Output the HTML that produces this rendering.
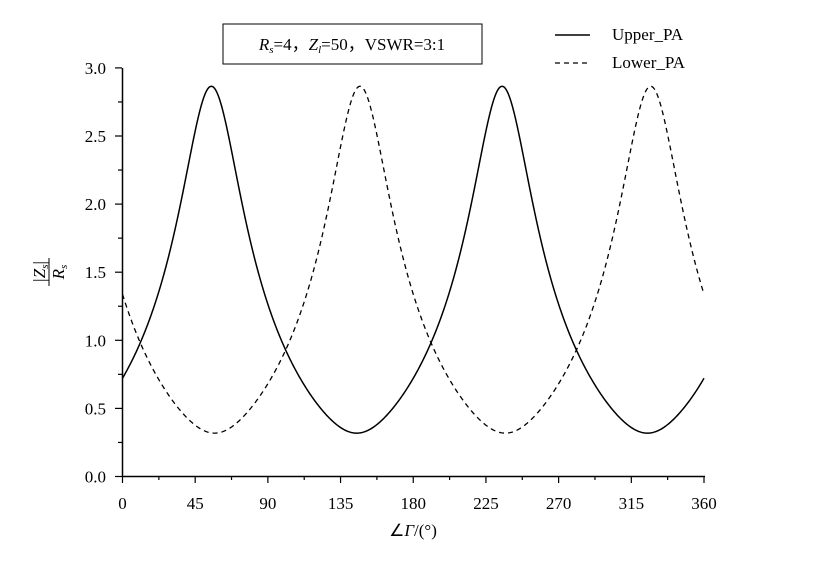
<!DOCTYPE html>
<html><head><meta charset="utf-8"><style>
body{margin:0;background:#fff;}
svg text{font-family:"Liberation Serif",serif;fill:#000;}
</style></head><body>
<svg id="s" width="831" height="557" viewBox="0 0 831 557" xmlns="http://www.w3.org/2000/svg">
<rect width="831" height="557" fill="#fff"/>
<rect x="223" y="24" width="259" height="40" fill="none" stroke="#000" stroke-width="1"/>
<text x="352" y="50" font-size="17" text-anchor="middle"><tspan font-style="italic">R</tspan><tspan font-size="11" font-style="italic" dy="3">s</tspan><tspan dy="-3">=4，</tspan><tspan font-style="italic">Z</tspan><tspan font-size="11" font-style="italic" dy="3">l</tspan><tspan dy="-3">=50，VSWR=3:1</tspan></text>
<line x1="555" y1="35" x2="590" y2="35" stroke="#000" stroke-width="1.5"/>
<text x="612" y="40" font-size="17">Upper_PA</text>
<line x1="555" y1="63" x2="590" y2="63" stroke="#000" stroke-width="1.3" stroke-dasharray="5,4"/>
<text x="612" y="68" font-size="17">Lower_PA</text>
<g stroke="#000" stroke-width="1.5" fill="none">
<line x1="122.5" y1="68" x2="122.5" y2="477"/>
<line x1="122" y1="476.5" x2="705" y2="476.5"/>
</g>
<g id="ticks" stroke="#000" stroke-width="1.2"></g>
<g id="labels" font-size="17"></g>
<path id="up" fill="none" stroke="#000" stroke-width="1.5"/>
<path id="lo" fill="none" stroke="#000" stroke-width="1.3" stroke-dasharray="5,4"/>
<g transform="translate(48,272) rotate(-90)" font-size="17">
<text x="0" y="-3" text-anchor="middle"><tspan font-style="italic">|Z</tspan><tspan font-size="11" font-style="italic" dy="3">s</tspan><tspan dy="-3">|</tspan></text>
<line x1="-14" y1="1" x2="14" y2="1" stroke="#000" stroke-width="1"/>
<text x="0" y="16" text-anchor="middle"><tspan font-style="italic">R</tspan><tspan font-size="11" font-style="italic" dy="3">s</tspan></text>
</g>
<text x="413" y="536" font-size="17" text-anchor="middle">∠<tspan font-style="italic">Γ</tspan>/(°)</text>
</svg>
<script>
var X=function(t){return 122.5+t*581.5/360},Y=function(v){return 476.5-v*136.2};
var ns="http://www.w3.org/2000/svg",tk=document.getElementById("ticks"),lb=document.getElementById("labels");
function L(a,b,c,d){var l=document.createElementNS(ns,"line");l.setAttribute("x1",a);l.setAttribute("y1",b);l.setAttribute("x2",c);l.setAttribute("y2",d);tk.appendChild(l);}
function T(x,y,s,a){var t=document.createElementNS(ns,"text");t.setAttribute("x",x);t.setAttribute("y",y);t.setAttribute("text-anchor",a);t.textContent=s;lb.appendChild(t);}
for(var v=0;v<=3.001;v+=0.25){var y=Y(v),maj=Math.abs(v*2-Math.round(v*2))<1e-6;L(122,y,maj?115:118,y);if(maj)T(106,y+6,v.toFixed(1),"end");}
for(var t=0;t<=360;t+=22.5){var x=X(t),maj=t%45==0;L(x,476,x,maj?483:480);if(maj)T(x,509,String(t),"middle");}
function f(th,phi){var a=(2*th-phi)*Math.PI/180,r=0.5,c=Math.cos(a)*r,s=Math.sin(a)*r;
return 0.955*Math.hypot(1+c,s)/Math.hypot(1-c,s);}
function P(phi){var d="";for(var t=0;t<=360;t+=0.5){d+=(t?"L":"M")+X(t).toFixed(2)+","+Y(f(t,phi)).toFixed(2);}return d;}
document.getElementById("up").setAttribute("d",P(110));
document.getElementById("lo").setAttribute("d",P(294));
</script>
</body></html>
